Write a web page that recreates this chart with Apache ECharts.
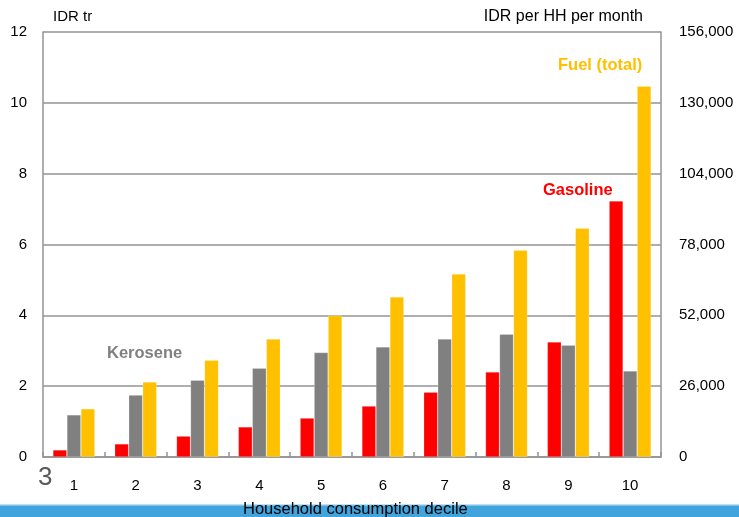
<!DOCTYPE html>
<html>
<head>
<meta charset="utf-8">
<script src="https://cdn.jsdelivr.net/npm/echarts@6/dist/echarts.min.js"></script>
<style>
  html, body { margin: 0; padding: 0; background: #fff; }
  #chart { width: 739px; height: 517px; }
</style>
</head>
<body>
<div id="chart"></div>
<script>
// Fuel subsidy spending by household consumption decile (IDR trillion)
const deciles = ['1', '2', '3', '4', '5', '6', '7', '8', '9', '10'];
const gasoline = [0.20, 0.37, 0.59, 0.85, 1.10, 1.44, 1.83, 2.40, 3.25, 7.23];
const kerosene = [1.19, 1.75, 2.17, 2.51, 2.95, 3.11, 3.33, 3.47, 3.16, 2.43];
const fuelTotal = [1.36, 2.12, 2.73, 3.33, 4.00, 4.52, 5.17, 5.84, 6.46, 10.47];

const leftTicks = { min: 0, max: 12, interval: 2 };
const rightTicks = { min: 0, max: 156000, interval: 26000 };

const FONT = 'Arial, "Liberation Sans", sans-serif';
const RED = '#FF0000', GREY = '#808080', GOLD = '#FFC000';
const AXIS_GREY = '#939393';

const chart = echarts.init(document.getElementById('chart'), null, { renderer: 'canvas' });

function barSeries(name, data, color) {
  return {
    name: name,
    type: 'bar',
    data: data,
    barWidth: 14,
    barGap: '0%',
    itemStyle: { color: color, borderColor: 'rgba(255,255,255,0.35)', borderWidth: 0.6 },
    emphasis: { disabled: true }
  };
}

chart.setOption({
  animation: false,
  backgroundColor: '#ffffff',
  grid: { left: 43, right: 78, top: 32, bottom: 60, containLabel: false },
  xAxis: {
    type: 'category',
    data: deciles,
    axisLine: { show: true, lineStyle: { color: AXIS_GREY, width: 1.5 } },
    axisTick: { show: true, inside: true, length: 5, alignWithLabel: false, lineStyle: { color: AXIS_GREY, width: 1.5 } },
    axisLabel: { color: '#000', fontFamily: FONT, fontSize: 15, margin: 21 }
  },
  yAxis: [
    {
      type: 'value',
      min: leftTicks.min, max: leftTicks.max, interval: leftTicks.interval,
      axisLine: { show: true, lineStyle: { color: AXIS_GREY, width: 1.5 } },
      axisTick: { show: false },
      splitLine: { show: true, lineStyle: { color: AXIS_GREY, width: 1.5 } },
      axisLabel: { color: '#000', fontFamily: FONT, fontSize: 15, margin: 16 }
    },
    {
      type: 'value',
      position: 'right',
      min: rightTicks.min, max: rightTicks.max, interval: rightTicks.interval,
      axisLine: { show: true, lineStyle: { color: AXIS_GREY, width: 1.5 } },
      axisTick: { show: false },
      splitLine: { show: false },
      axisLabel: {
        color: '#000', fontFamily: FONT, fontSize: 15, margin: 18,
        formatter: v => v.toLocaleString('en-US')
      }
    }
  ],
  series: [
    barSeries('Gasoline', gasoline, RED),
    barSeries('Kerosene', kerosene, GREY),
    barSeries('Fuel (total)', fuelTotal, GOLD)
  ],
  graphic: [
    { type: 'rect', shape: { x: 0, y: 505, width: 739, height: 12 }, style: { fill: '#41A4DC' }, z: 1 },
    { type: 'rect', shape: { x: 0, y: 504, width: 739, height: 1.5 }, style: { fill: '#BFE0F3' }, z: 1 },
    { type: 'text', left: 243, top: 501, z: 2,
      style: { text: 'Household consumption decile', fill: '#000', font: '16.5px ' + FONT } },
    { type: 'text', left: 53, top: 9, style: { text: 'IDR tr', fill: '#000', font: '15px ' + FONT } },
    { type: 'text', right: 96, top: 9, style: { text: 'IDR per HH per month', fill: '#000', font: '16px ' + FONT } },
    { type: 'text', left: 38, top: 465, style: { text: '3', fill: '#595959', font: '26px ' + FONT } },
    { type: 'text', left: 107, top: 345, style: { text: 'Kerosene', fill: GREY, font: 'bold 16.5px ' + FONT } },
    { type: 'text', left: 543, top: 182, style: { text: 'Gasoline', fill: RED, font: 'bold 16.5px ' + FONT } },
    { type: 'text', left: 558, top: 57, style: { text: 'Fuel (total)', fill: GOLD, font: 'bold 16.5px ' + FONT } }
  ]
});
</script>
</body>
</html>
